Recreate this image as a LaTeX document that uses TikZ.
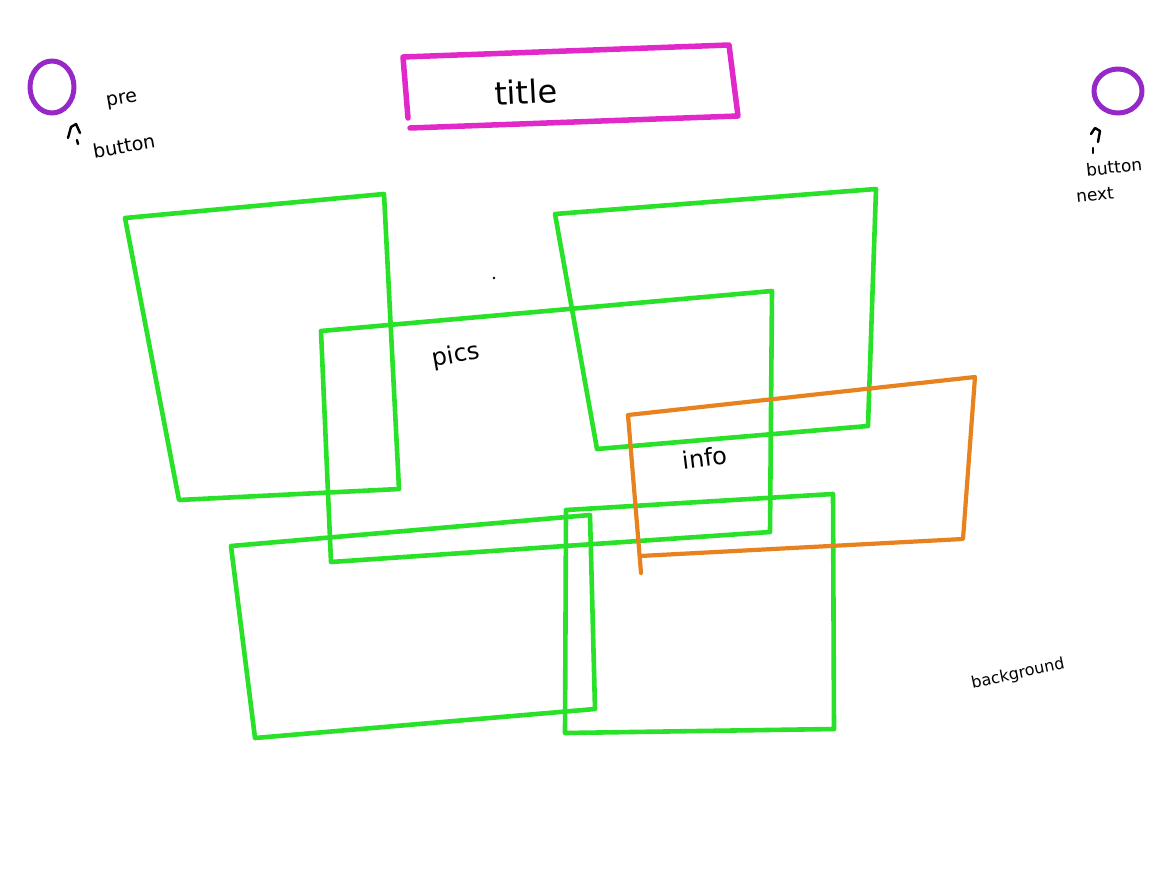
\documentclass[tikz,border=0pt]{standalone}
\usepackage{fontspec}
\setmainfont{DejaVu Sans}
\definecolor{sgreen}{RGB}{40,225,40}
\definecolor{spink}{RGB}{225,40,200}
\definecolor{spurple}{RGB}{150,40,200}
\definecolor{sorange}{RGB}{232,130,30}
\tikzset{
  sk/.style={line width=4.6pt, line join=round, line cap=round},
  gbox/.style={sk, draw=sgreen},
  hand/.style={inner sep=0pt, text=black},
}
\begin{document}
\begin{tikzpicture}[x=1pt,y=-1pt]
\useasboundingbox (0,0) rectangle (1170,878);
\fill[white] (0,0) rectangle (1170,878);
% title box
\draw[sk, draw=spink, line width=5.5pt] (410,128) -- (738,116) -- (729,45) -- (403,57) -- (408,118);
\node[hand, font=\fontsize{32}{32}\selectfont, rotate=3] (title) at (526,92) {title};
% buttons
\draw[sk, draw=spurple, line width=5pt] (52,87) ellipse [x radius=22, y radius=26];
\draw[sk, draw=spurple, line width=5pt] (1118,91) ellipse [x radius=24, y radius=22];
\draw[line width=2.4pt, line cap=round, line join=round] (68,138) -- (71,127) -- (76,124) -- (80,133);
\draw[line width=2.4pt, line cap=round] (77,140) -- (78,144);
\node[hand, font=\fontsize{19}{19}\selectfont, rotate=10] (pre) at (122,101) {pre};
\node[hand, font=\fontsize{19}{19}\selectfont, rotate=10] (prebtn) at (124,146) {button};
\draw[line width=2.4pt, line cap=round, line join=round] (1091,134) -- (1095,128) -- (1100,131) -- (1098,142);
\draw[line width=2.4pt, line cap=round] (1093,148) -- (1093,153);
\node[hand, font=\fontsize{17}{17}\selectfont, rotate=6] (nextbtn) at (1114,167) {button};
\node[hand, font=\fontsize{17}{17}\selectfont, rotate=6] (next) at (1095,195) {next};
% green boxes
\draw[gbox] (125,218) -- (384,194) -- (399,489) -- (179,500) -- cycle;
\draw[gbox] (555,214) -- (876,189) -- (868,426) -- (597,449) -- cycle;
\draw[gbox] (321,331) -- (772,291) -- (770,532) -- (331,562) -- cycle;
\draw[gbox] (231,546) -- (590,515) -- (595,709) -- (255,738) -- cycle;
\draw[gbox] (566,510) -- (833,494) -- (834,729) -- (565,733) -- cycle;
% orange box
\draw[sk, draw=sorange, line width=4.2pt] (641,573) -- (628,415) -- (975,377) -- (963,539) -- (640,556);
% labels
\node[hand, font=\fontsize{24}{24}\selectfont, rotate=10] (pics) at (456,356) {pics};
\node[hand, font=\fontsize{24}{24}\selectfont, rotate=7] (info) at (705,458) {info};
\node[hand, font=\fontsize{16}{16}\selectfont, rotate=12] (bg) at (1018,674) {background};
\fill (494,278) circle (1.4);
\end{tikzpicture}
\end{document}
